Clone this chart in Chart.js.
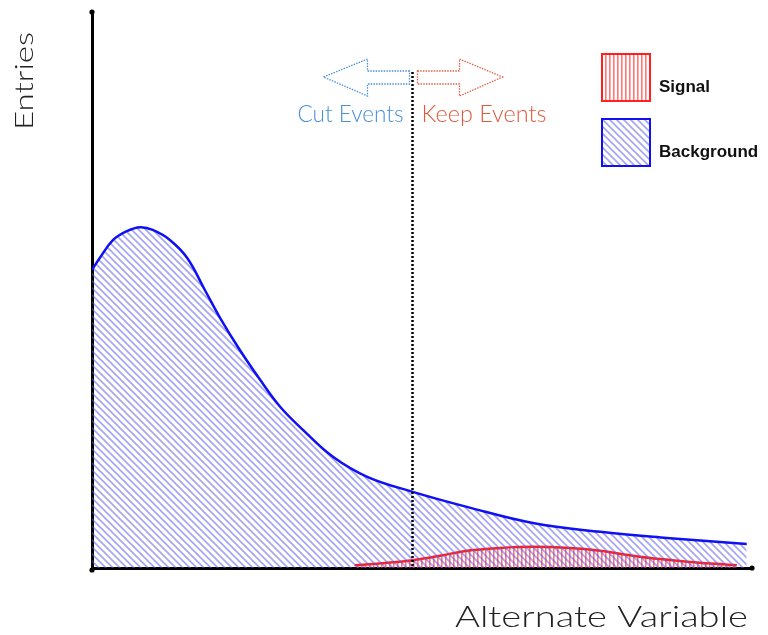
<!DOCTYPE html>
<html>
<head>
<meta charset="utf-8">
<script src="https://cdn.jsdelivr.net/npm/chart.js@4.4.1/dist/chart.umd.min.js"></script>
<style>
  html, body { margin: 0; padding: 0; background: #fff; }
  #wrap { width: 768px; height: 635px; position: relative; }
</style>
</head>
<body>
<div id="wrap"><canvas id="cut-chart"></canvas></div>
<script>
// Background / signal shapes (arbitrary units, 0-100)
const bgX = [0, 1.2, 3.2, 5.3, 7.3, 9.2, 11.8, 14.4, 17.1, 19.4, 22.4, 25.5, 28.5, 32.0, 36.5, 41.7, 48.6, 56.8, 66.8, 77.0, 87.1, 99.2];
const bgY = [53.6, 55.8, 59.0, 60.6, 61.3, 60.8, 59.0, 55.8, 50.0, 45.0, 39.2, 33.8, 29.0, 24.8, 20.0, 16.4, 13.7, 11.0, 8.1, 6.5, 5.4, 4.3];
const sigX = [39.8, 44.4, 48.6, 52.7, 56.8, 61.8, 66.8, 72.4, 77.0, 81.5, 86.1, 90.6, 95.2, 97.7];
const sigY = [0.5, 0.9, 1.4, 2.2, 3.1, 3.6, 3.8, 3.6, 3.1, 2.3, 1.6, 1.1, 0.7, 0.5];
const cutValue = 48.5;
const seriesLabels = ['Signal', 'Background'];

// hatch fills
function makeHatch(kind, color) {
    const c = document.createElement('canvas');
    const ctx = c.getContext('2d');
    if (kind === 'diag') {
        const s = 7;
        c.width = s; c.height = s;
        ctx.strokeStyle = color;
        ctx.lineWidth = 1.6;
        ctx.beginPath();
        ctx.moveTo(-1, -1); ctx.lineTo(s + 1, s + 1);
        ctx.moveTo(-1, s - 1); ctx.lineTo(1, s + 1);
        ctx.moveTo(s - 1, -1); ctx.lineTo(s + 1, 1);
        ctx.stroke();
    } else {
        c.width = 4; c.height = 4;
        ctx.fillStyle = color;
        ctx.fillRect(1, 0, 1.6, 4);
    }
    return ctx.createPattern(c, 'repeat');
}

const bgPattern = makeHatch('diag', 'rgba(90, 90, 235, 0.55)');
const sigPattern = makeHatch('vert', 'rgba(255, 60, 60, 0.7)');

function fitText(ctx, text, x, y, font, width, align) {
    ctx.save();
    ctx.font = font;
    const w = ctx.measureText(text).width;
    const sx = width / w;
    ctx.translate(x, y);
    ctx.scale(sx, 1);
    ctx.textAlign = align || 'left';
    ctx.fillText(text, 0, 0);
    ctx.restore();
}

const decorPlugin = {
    id: 'decor',
    afterDraw(chart) {
        const ctx = chart.ctx;
        const area = chart.chartArea;
        const xs = chart.scales.x;
        const cx = Math.round(xs.getPixelForValue(cutValue)) + 0.5;

        // cut line
        ctx.save();
        ctx.strokeStyle = '#000';
        ctx.lineWidth = 2.5;
        ctx.setLineDash([2, 2]);
        ctx.beginPath();
        ctx.moveTo(cx, area.top + 60);
        ctx.lineTo(cx, area.bottom);
        ctx.stroke();

        // arrows
        const ay = area.top + 65;
        ctx.lineWidth = 1.3;
        ctx.setLineDash([1.5, 1.2]);
        ctx.strokeStyle = '#4a90d9';
        ctx.beginPath();
        ctx.moveTo(cx - 3, ay - 6);
        ctx.lineTo(cx - 45, ay - 6);
        ctx.lineTo(cx - 45, ay - 18);
        ctx.lineTo(cx - 89, ay);
        ctx.lineTo(cx - 45, ay + 19);
        ctx.lineTo(cx - 45, ay + 7);
        ctx.lineTo(cx - 3, ay + 7);
        ctx.closePath();
        ctx.stroke();
        ctx.strokeStyle = '#e0604a';
        ctx.beginPath();
        ctx.moveTo(cx + 5, ay - 6);
        ctx.lineTo(cx + 47, ay - 6);
        ctx.lineTo(cx + 47, ay - 18);
        ctx.lineTo(cx + 90, ay);
        ctx.lineTo(cx + 47, ay + 19);
        ctx.lineTo(cx + 47, ay + 7);
        ctx.lineTo(cx + 5, ay + 7);
        ctx.closePath();
        ctx.stroke();
        ctx.restore();

        ctx.save();
        ctx.textBaseline = 'alphabetic';
        ctx.fillStyle = '#4a8fd8';
        fitText(ctx, 'Cut Events', cx - 9, 122, '300 23px Lato', 106, 'right');
        ctx.fillStyle = '#e05a3c';
        fitText(ctx, 'Keep Events', cx + 9, 122, '300 23px Lato', 125, 'left');

        // axis titles
        ctx.fillStyle = '#222';
        fitText(ctx, 'Alternate Variable', area.right - 4, 627, '300 30px Lato', 293, 'right');
        ctx.save();
        ctx.translate(33, 130);
        ctx.rotate(-Math.PI / 2);
        fitText(ctx, 'Entries', 0, 0, '300 25px Lato', 98, 'left');
        ctx.restore();
        ctx.restore();

        // axis end dots
        ctx.save();
        ctx.fillStyle = '#000';
        [[area.left, area.top], [area.right, area.bottom], [area.left, area.bottom + 2]].forEach(p => {
            ctx.beginPath();
            ctx.arc(p[0], p[1], 2.6, 0, Math.PI * 2);
            ctx.fill();
        });
        ctx.restore();

        // legend
        const boxes = [
            { label: seriesLabels[0], ds: chart.data.datasets[1], top: 54, base: 92 },
            { label: seriesLabels[1], ds: chart.data.datasets[0], top: 119, base: 157 }
        ];
        ctx.save();
        boxes.forEach(b => {
            ctx.fillStyle = '#fff';
            ctx.fillRect(602, b.top, 48, 47);
            ctx.fillStyle = b.ds.backgroundColor;
            ctx.fillRect(602, b.top, 48, 47);
            ctx.strokeStyle = b.ds.borderColor;
            ctx.lineWidth = 2;
            ctx.strokeRect(602, b.top, 48, 47);
            ctx.fillStyle = '#111';
            ctx.font = 'bold 17px "Liberation Sans", Arial, sans-serif';
            ctx.textAlign = 'left';
            ctx.fillText(b.label, 659, b.base);
        });
        ctx.restore();
    }
};

document.addEventListener('DOMContentLoaded', function () {
    const ctx = document.getElementById('cut-chart');
    new Chart(ctx, {
        type: 'line',
        data: {
            datasets: [
                {
                    label: 'Background',
                    data: bgX.map((x, i) => ({ x: x, y: bgY[i] })),
                    borderColor: '#1010f5',
                    borderWidth: 2.5,
                    backgroundColor: bgPattern,
                    fill: 'origin',
                    pointRadius: 0,
                    tension: 0.4
                },
                {
                    label: 'Signal',
                    data: sigX.map((x, i) => ({ x: x, y: sigY[i] })),
                    borderColor: '#ff2020',
                    borderWidth: 2.5,
                    backgroundColor: sigPattern,
                    fill: 'origin',
                    pointRadius: 0,
                    tension: 0.4
                }
            ]
        },
        options: {
            responsive: true,
            maintainAspectRatio: false,
            animation: false,
            layout: {
                padding: { left: 84, top: 12, right: 16, bottom: 59 }
            },
            plugins: {
                legend: { display: false },
                tooltip: { enabled: false }
            },
            scales: {
                x: {
                    type: 'linear',
                    min: 0,
                    max: 100,
                    z: 1,
                    grid: { display: false },
                    ticks: { display: false },
                    border: { color: '#000', width: 3 }
                },
                y: {
                    min: 0,
                    max: 100,
                    z: 1,
                    grid: { display: false },
                    ticks: { display: false },
                    border: { color: '#000', width: 3 }
                }
            }
        },
        plugins: [decorPlugin]
    });
});
</script>
</body>
</html>
